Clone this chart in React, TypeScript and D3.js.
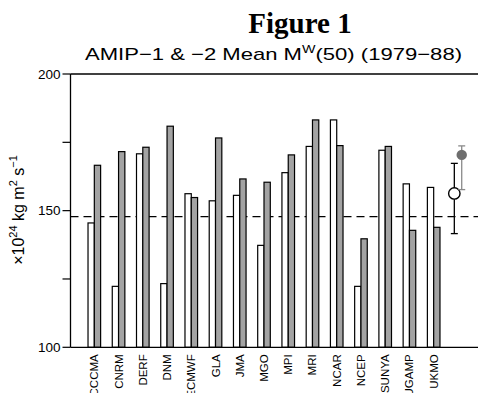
import React from "react";
import * as d3 from "d3";

// AMIP models
const models = [
  "CCCMA", "CNRM", "DERF", "DNM", "ECMWF", "GLA", "JMA", "MGO",
  "MPI", "MRI", "NCAR", "NCEP", "SUNYA", "UGAMP", "UKMO",
];
// AMIP-1 (open bars) and AMIP-2 (grey bars) mean M^W(50), 10^24 kg m^2 s^-1
const amip1 = [145.5, 122.3, 170.8, 123.3, 156.2, 153.6, 155.6, 137.3, 163.9, 173.5, 183.2, 122.3, 172.1, 159.8, 158.5];
const amip2 = [166.6, 171.6, 173.2, 180.9, 154.8, 176.6, 161.6, 160.4, 170.4, 183.2, 173.8, 139.7, 173.5, 142.8, 143.9];

// Observed reference level (dashed line)
const observed = 147.8;

// Ensemble means with spread: [low, mean, high]
const ensemble1 = [141.6, 156.3, 167.3];
const ensemble2 = [157.7, 170.4, 173.7];

const yTicks = [100, 150, 200];
const yMinorTicks = [125, 175];

const W = 478;
const H = 393;
const left = 70.5;
const top = 74;
const bottom = 347.3;

export default function App() {
  const y = d3.scaleLinear().domain([100, 200]).range([bottom, top]);
  const x = d3
    .scaleBand<string>()
    .domain([...models, "mean"])
    .range([82.2, 82.2 + 16 * 24.24])
    .padding(0);
  const barW = 6.3;
  const center = (m: string) => (x(m) as number) + x.bandwidth() / 2;
  const meanX = center("mean");
  const sans = "'Liberation Sans', Arial, Helvetica, sans-serif";

  const errorBar = (
    cx: number,
    [lo, mid, hi]: number[],
    stroke: string,
    filled: boolean,
    key: string
  ) => (
    <g key={key}>
      <line x1={cx} x2={cx} y1={y(lo)} y2={y(hi)} stroke={stroke} strokeWidth={1.3} />
      <line x1={cx - 3.5} x2={cx + 3.5} y1={y(lo)} y2={y(lo)} stroke={stroke} strokeWidth={1.3} />
      <line x1={cx - 3.5} x2={cx + 3.5} y1={y(hi)} y2={y(hi)} stroke={stroke} strokeWidth={1.3} />
      {filled ? (
        <circle cx={cx} cy={y(mid)} r={5.2} fill="#6e6e6e" />
      ) : (
        <circle cx={cx} cy={y(mid)} r={5.7} fill="white" stroke="black" strokeWidth={1.4} />
      )}
    </g>
  );

  return (
    <svg
      width={W}
      height={H}
      style={{ position: "absolute", left: 0, top: 0, background: "white" }}
    >
      {/* Titles */}
      <text
        x={300}
        y={33}
        textAnchor="middle"
        fontFamily="'Liberation Serif', 'Times New Roman', serif"
        fontWeight="bold"
        fontSize={29}
      >
        Figure 1
      </text>
      <text x={85} y={60} fontFamily={sans} fontSize={17} textLength={377} lengthAdjust="spacingAndGlyphs">
        AMIP−1 &amp; −2 Mean M
        <tspan fontSize={11} dy={-7}>W</tspan>
        <tspan dy={7}>(50) (1979−88)</tspan>
      </text>

      {/* Observed reference */}
      <line
        x1={left}
        x2={W}
        y1={y(observed)}
        y2={y(observed)}
        stroke="black"
        strokeWidth={1.3}
        strokeDasharray="8,5"
      />

      {/* Bars */}
      {models.map((m, i) => {
        const c = center(m);
        return (
          <g key={m}>
            <rect
              x={c - barW}
              y={y(amip1[i])}
              width={barW}
              height={bottom - y(amip1[i])}
              fill="white"
              stroke="black"
              strokeWidth={1.2}
            />
            <rect
              x={c}
              y={y(amip2[i])}
              width={barW}
              height={bottom - y(amip2[i])}
              fill="#a3a3a3"
              stroke="black"
              strokeWidth={1.2}
            />
          </g>
        );
      })}

      {/* Ensemble means */}
      {errorBar(meanX - 3.6, ensemble1, "black", false, "e1")}
      {errorBar(meanX + 3.8, ensemble2, "#8a8a8a", true, "e2")}

      {/* Axes frame */}
      <line x1={left} x2={W} y1={top} y2={top} stroke="black" strokeWidth={1.3} />
      <line x1={left} x2={W} y1={bottom} y2={bottom} stroke="black" strokeWidth={1.3} />
      <line x1={left} x2={left} y1={top} y2={bottom} stroke="black" strokeWidth={1.3} />

      {/* Y ticks */}
      {yTicks.map((t) => (
        <g key={t}>
          <line x1={left - 8} x2={left} y1={y(t)} y2={y(t)} stroke="black" strokeWidth={1.2} />
          <text
            x={left - 10}
            y={y(t)}
            dy="0.35em"
            textAnchor="end"
            fontFamily={sans}
            fontSize={13.5}
          >
            {t}
          </text>
        </g>
      ))}
      {yMinorTicks.map((t) => (
        <line key={t} x1={left - 8} x2={left} y1={y(t)} y2={y(t)} stroke="black" strokeWidth={1.2} />
      ))}

      {/* Y axis label */}
      <text
        transform="translate(24,210) rotate(-90)"
        textAnchor="middle"
        fontFamily={sans}
        fontSize={16}
      >
        ×10<tspan fontSize={11} dy={-7}>24</tspan>
        <tspan dy={7}> kg m</tspan>
        <tspan fontSize={11} dy={-7}>2</tspan>
        <tspan dy={7}> s</tspan>
        <tspan fontSize={11} dy={-7}>−1</tspan>
      </text>

      {/* Model labels */}
      {models.map((m) => (
        <text
          key={m}
          transform={`translate(${center(m) + 4},${bottom + 7}) rotate(-90)`}
          textAnchor="end"
          fontFamily={sans}
          fontSize={11.5}
        >
          {m}
        </text>
      ))}
    </svg>
  );
}
